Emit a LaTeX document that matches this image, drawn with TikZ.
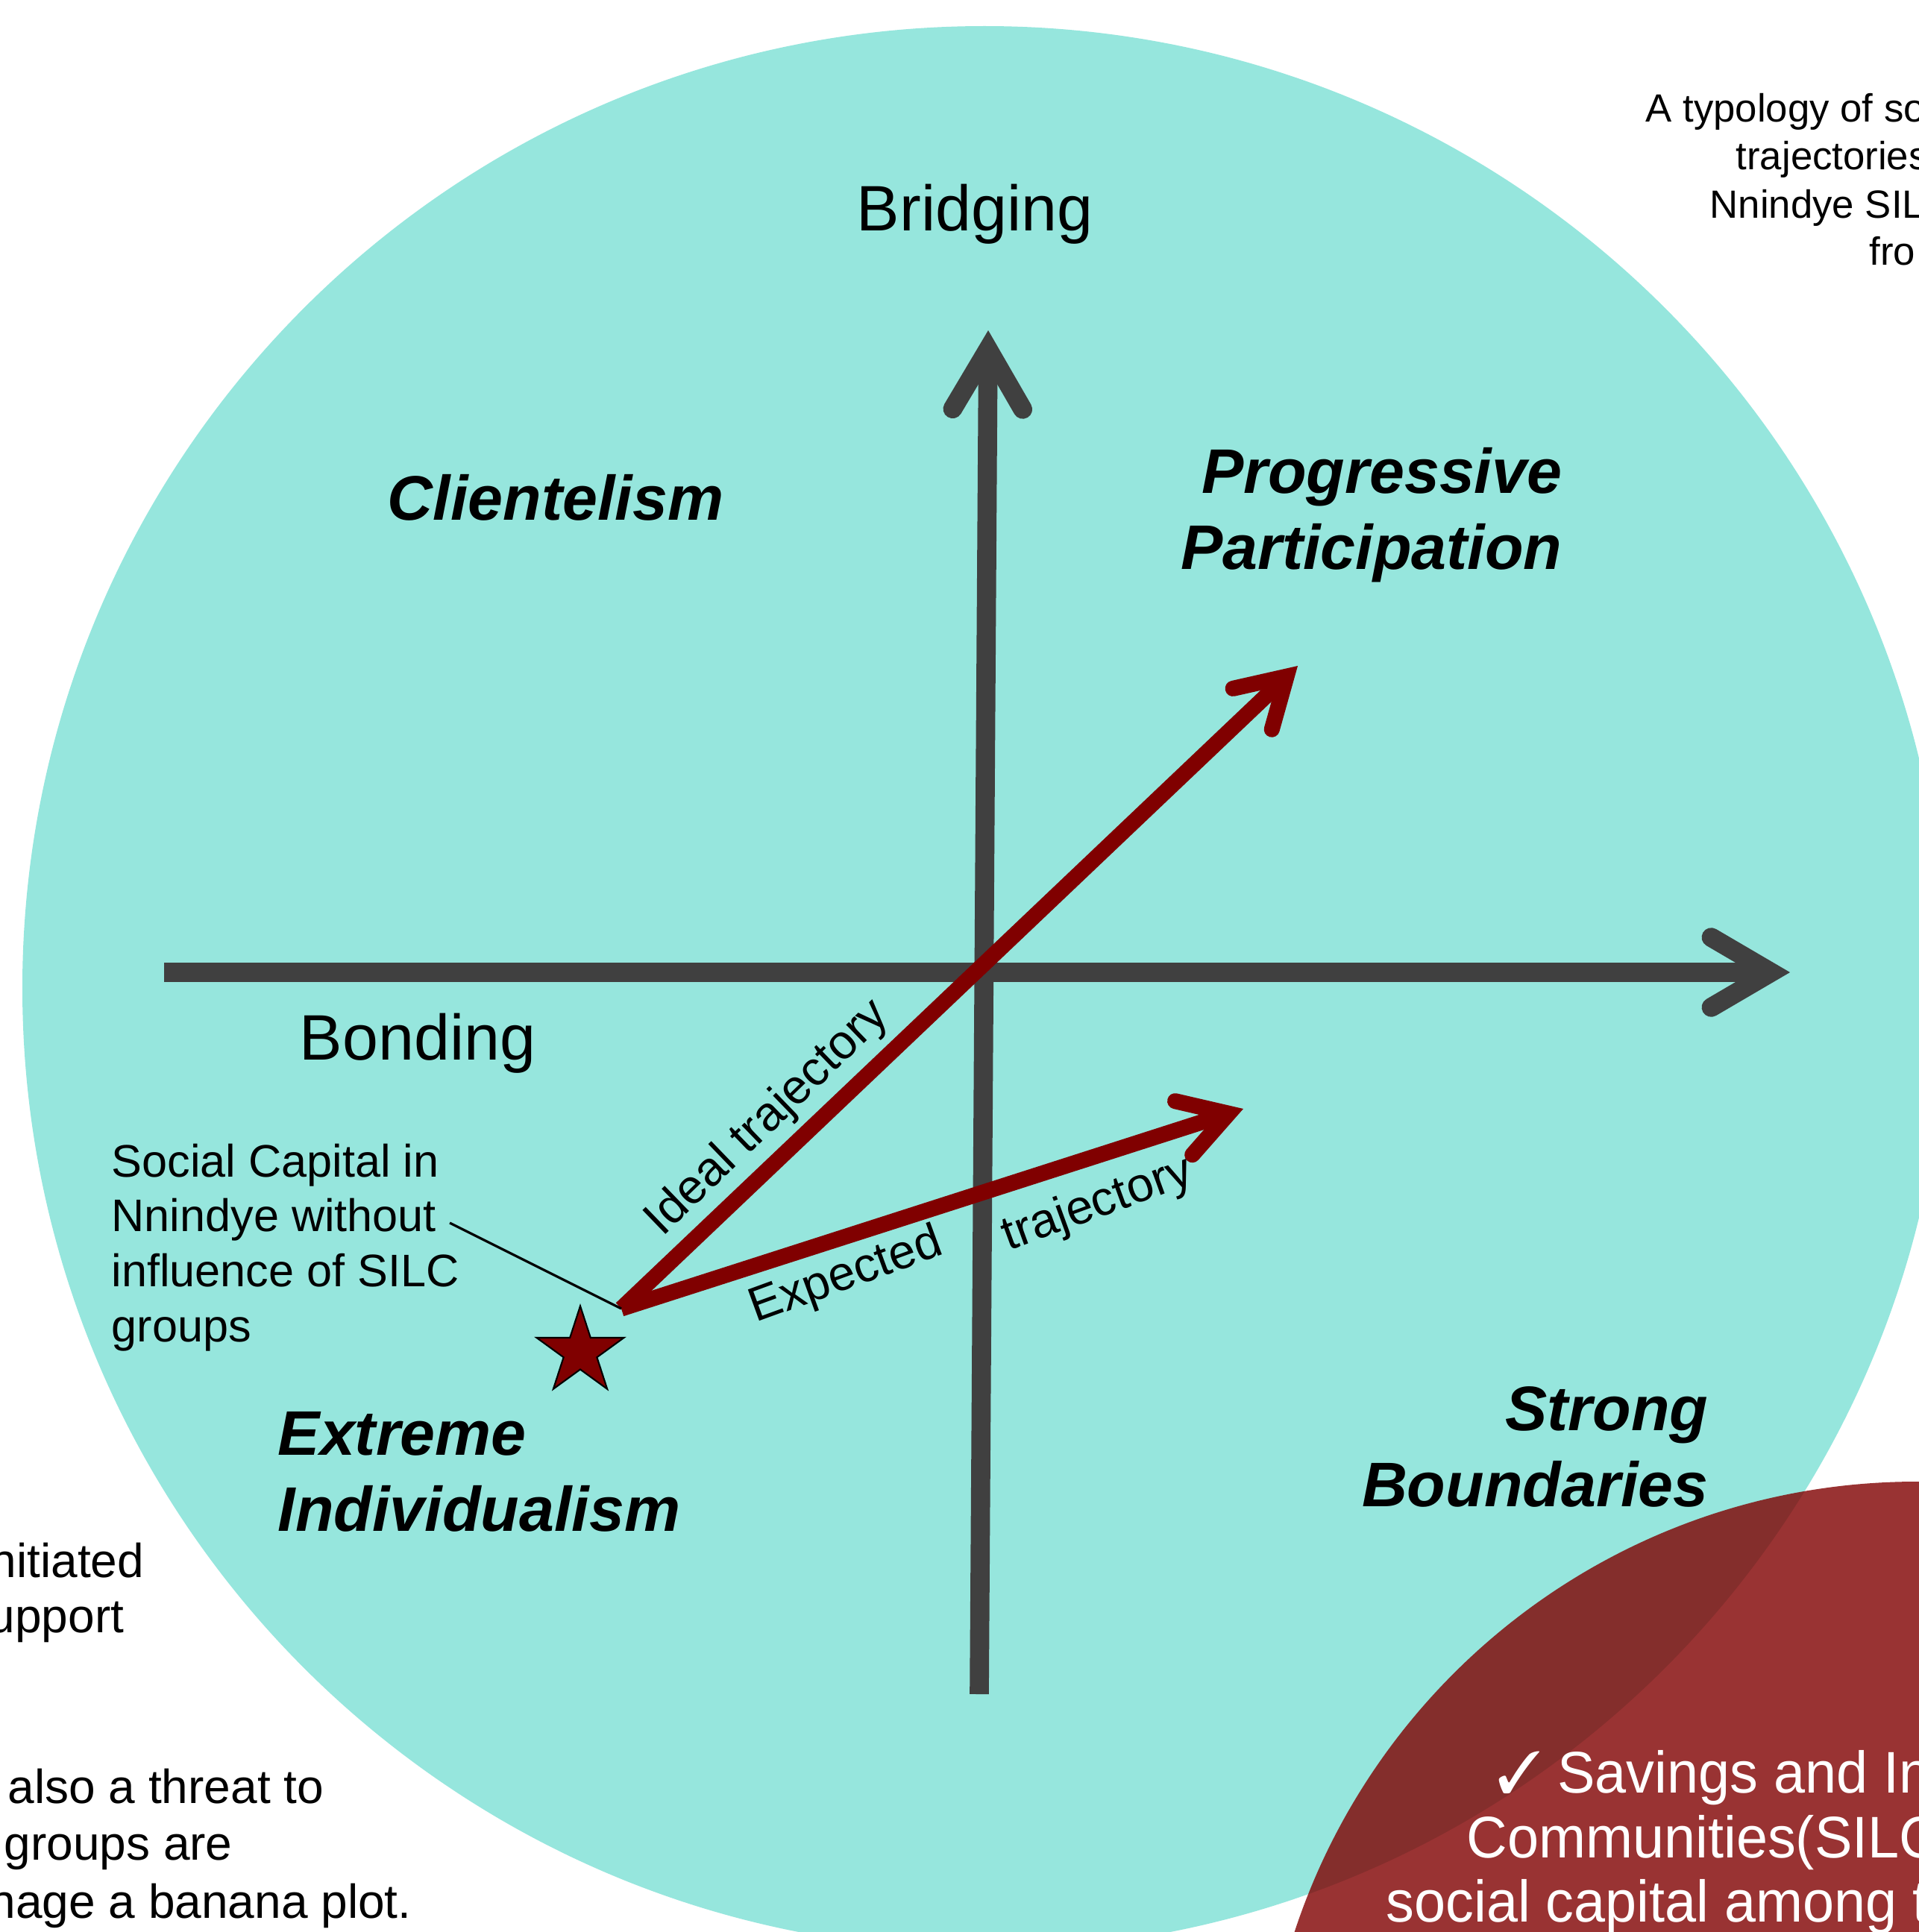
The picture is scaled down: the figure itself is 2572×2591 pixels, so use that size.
\documentclass[tikz,border=0pt]{standalone}
\usepackage{fontspec}
\setmainfont{Liberation Sans}
\newfontfamily\narrowsans[FakeStretch=0.96]{Liberation Sans}
\usepackage{pifont}
\usetikzlibrary{arrows.meta, shapes.geometric}
\definecolor{cteal}{HTML}{96E6DD}
\definecolor{caxis}{HTML}{404040}
\definecolor{cmaroon}{HTML}{800000}

\begin{document}
\begin{tikzpicture}[x=0.01cm, y=-0.01cm,
    axis/.style={draw=caxis, line width=7.3pt, -{Straight Barb[length=22.8pt, width=26.7pt, line cap=round, line join=miter]}},
    traj/.style={draw=cmaroon, line width=6pt, -{Straight Barb[length=18pt, width=21.5pt, line cap=round, line join=miter]}},
    axislabel/.style={inner sep=0pt, font=\fontsize{24.5}{29}\selectfont},
    quadlabel/.style={inner sep=0pt, font=\fontsize{24}{29}\selectfont\bfseries\itshape},
    trajlabel/.style={inner sep=0pt, font=\fontsize{18.4}{22}\selectfont},
    sidenote/.style={inner sep=0pt, anchor=base west, font=\fontsize{18.2}{21.6}\selectfont}]
    \fill[white] (0,0) rectangle (2572,2591);
    \useasboundingbox (0,0) rectangle (2572,2591);
    % big disc behind the typology
    \fill[cteal] (1320,1325) circle (1290);
    % axes
    \coordinate (xl) at (220,1304);
    \coordinate (xr) at (2400,1304);
    \coordinate (yb) at (1313,2272);
    \coordinate (yt) at (1325,443);
    \draw[axis] (xl) -- (xr);
    \draw[axis] (yb) -- (yt);
    \node[axislabel, anchor=base] (bridging) at (1307,309) {Bridging};
    \node[axislabel, anchor=base] (bonding) at (560,1421) {Bonding};
    % quadrant names
    \node[quadlabel, anchor=base] (client) at (745,697) {Clientelism};
    \node[quadlabel, anchor=north east, align=right] (progress) at (2095,600) {Progressive\\Participation};
    \node[quadlabel, anchor=north west, align=left] (extreme) at (372,1893) {Extreme\\Individualism};
    \node[quadlabel, anchor=north east, align=right] (strong) at (2291,1859) {Strong\\Boundaries};
    % trajectories
    \coordinate (orig) at (833,1755);
    \coordinate (ideal) at (1740,893);
    \coordinate (expect) at (1667,1487);
    \draw[traj] (orig) -- (ideal);
    \draw[traj] (orig) -- (expect);
    \node[trajlabel, rotate=44] (ideallbl) at (1030,1500) {Ideal trajectory};
    \node[trajlabel, rotate=20] (explbl) at (1135,1712) {Expected};
    \node[trajlabel, rotate=20] (trajlbl) at (1472,1616) {trajectory};
    % starting point
    \node[star, star points=5, star point ratio=2.618, draw=black, line width=0.6pt, fill=cmaroon, minimum size=1.23cm, inner sep=0pt] (start) at (778,1813) {};
    \node[inner sep=0pt, anchor=north west, align=left, font=\fontsize{17.4}{21}\selectfont] (sclabel) at (149,1533) {Social Capital in\\Nnindye without\\influence of SILC\\groups};
    \coordinate (tag) at (603,1640);
    \draw[black, line width=0.9pt] (tag) -- (orig);
    % SILC disc
    \fill[cmaroon, fill opacity=.8] (2570,2865) circle (878);
    \begin{scope}[every node/.style={inner sep=0pt, anchor=base west, text=white, font=\narrowsans\fontsize{22.4}{24.7}\selectfont}]
        \node (silc1) at (2007,2404) {\ding{51} Savings and In};
        \node (silc2) at (1966,2491) {Communities(SILC};
        \node (silc3) at (1858,2577) {social capital among t};
    \end{scope}
    % side texts
    \foreach \x/\y/\t in {2206/163/A typology of so, 2327/228/trajectories, 2292/292/Nnindye SIL, 2506/355/fro}
        \node[inner sep=0pt, anchor=base west, font=\fontsize{15}{18.3}\selectfont] (title\y) at (\x,\y) {\t};
    \foreach \x/\y/\t in {-14/2115/nitiated, -16/2189/upport, 10/2418/also a threat to, 5/2494/groups are, -15/2572/nage a banana plot.}
        \node[sidenote] (side\y) at (\x,\y) {\t};
\end{tikzpicture}
\end{document}
